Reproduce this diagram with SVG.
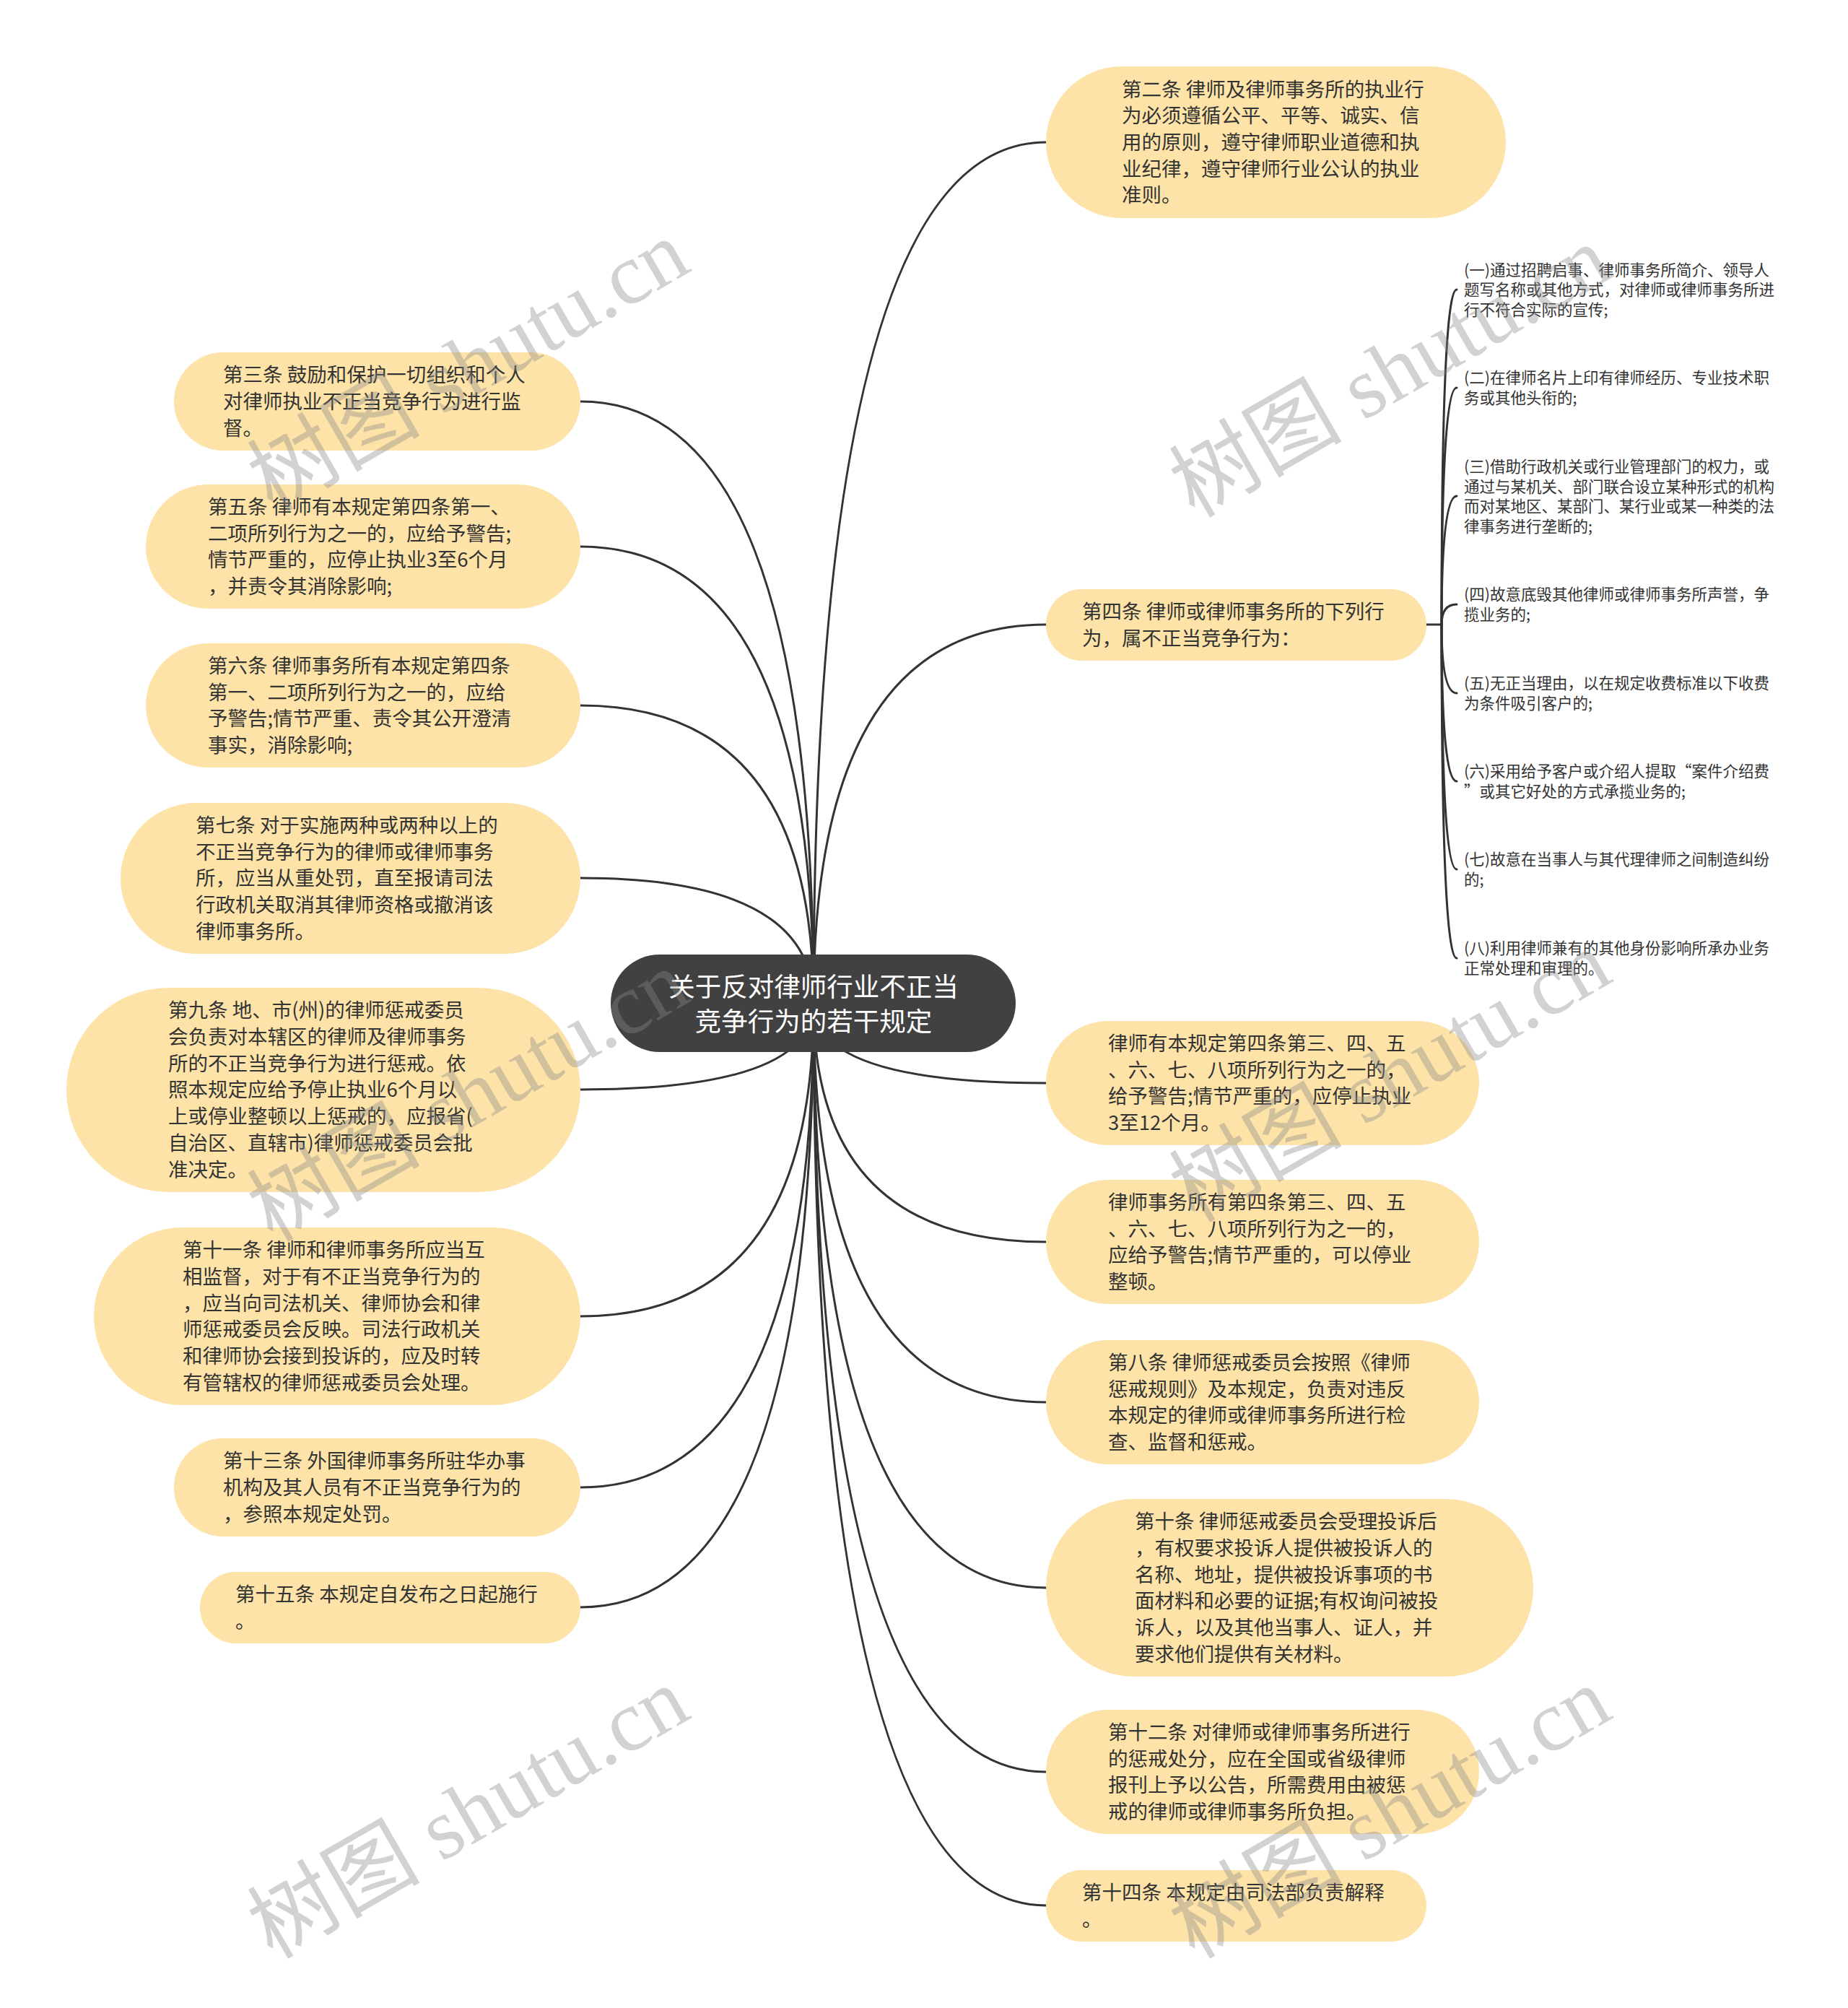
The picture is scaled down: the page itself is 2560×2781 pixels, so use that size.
<svg xmlns="http://www.w3.org/2000/svg" width="2560" height="2781" viewBox="0 0 2560 2781">
<style>
.bg{fill:#ffffff}
.node rect{fill:#FDE3A8}
.node text{font-family:"Noto Sans CJK SC","Noto Sans",sans-serif;font-size:27.5px;fill:#333333}
.leaf text{font-family:"Noto Sans CJK SC","Noto Sans",sans-serif;font-size:21.5px;fill:#333333}
#root rect{fill:#414141}
#root text{font-family:"Noto Sans CJK SC","Noto Sans",sans-serif;font-size:36.5px;fill:#ffffff;text-anchor:middle}
#connectors path{fill:none;stroke:#333333;stroke-width:3;stroke-linecap:round}
.wm text{font-size:120px;fill:#8a8a8a;fill-opacity:0.38;text-anchor:middle}
.wm .cjk{font-family:"Noto Sans CJK SC",serif}
.wm .lat{font-family:"Liberation Serif",serif}
</style>
<rect class="bg" x="0" y="0" width="2560" height="2781"/>

<g id="connectors">
<path d="M1127 1390 Q1127 197 1449 197"/>
<path d="M1127 1390 Q1127 865 1449 865"/>
<path d="M1127 1390 Q1127 1500 1449 1500"/>
<path d="M1127 1390 Q1127 1720 1449 1720"/>
<path d="M1127 1390 Q1127 1942 1449 1942"/>
<path d="M1127 1390 Q1127 2199 1449 2199"/>
<path d="M1127 1390 Q1127 2454 1449 2454"/>
<path d="M1127 1390 Q1127 2639 1449 2639"/>
<path d="M1127 1390 Q1127 556 804 556"/>
<path d="M1127 1390 Q1127 757 804 757"/>
<path d="M1127 1390 Q1127 977 804 977"/>
<path d="M1127 1390 Q1127 1216 804 1216"/>
<path d="M1127 1390 Q1127 1509 804 1509"/>
<path d="M1127 1390 Q1127 1823 804 1823"/>
<path d="M1127 1390 Q1127 2060 804 2060"/>
<path d="M1127 1390 Q1127 2226 804 2226"/>
<path d="M1976 865 L1997 865"/>
<path d="M1997 865 Q1997 401 2018 401"/>
<path d="M1997 865 Q1997 537 2018 537"/>
<path d="M1997 865 Q1997 687 2018 687"/>
<path d="M1997 865 Q1997 837 2018 837"/>
<path d="M1997 865 Q1997 960 2018 960"/>
<path d="M1997 865 Q1997 1082 2018 1082"/>
<path d="M1997 865 Q1997 1204 2018 1204"/>
<path d="M1997 865 Q1997 1327 2018 1327"/>
</g>

<g id="root">
<rect x="846" y="1322" width="561" height="135" rx="67.5" ry="67.5"/>
<text x="1127" y="1380">关于反对律师行业不正当</text>
<text x="1127" y="1428">竞争行为的若干规定</text>
</g>

<g id="n2" class="node">
<rect x="1449" y="92" width="637" height="210" rx="105" ry="105"/>
<text x="1554" y="134">第二条 律师及律师事务所的执业行</text>
<text x="1554" y="170">为必须遵循公平、平等、诚实、信</text>
<text x="1554" y="207">用的原则，遵守律师职业道德和执</text>
<text x="1554" y="244">业纪律，遵守律师行业公认的执业</text>
<text x="1554" y="280">准则。</text>
</g>

<g id="n4" class="node">
<rect x="1449" y="816" width="527" height="99" rx="49.5" ry="49.5"/>
<text x="1499" y="857">第四条 律师或律师事务所的下列行</text>
<text x="1499" y="894">为，属不正当竞争行为：</text>
</g>

<g id="n4-1" class="leaf">
<text x="2028" y="382">(一)通过招聘启事、律师事务所简介、领导人</text>
<text x="2028" y="409">题写名称或其他方式，对律师或律师事务所进</text>
<text x="2028" y="437">行不符合实际的宣传;</text>
</g>
<g id="n4-2" class="leaf">
<text x="2028" y="531">(二)在律师名片上印有律师经历、专业技术职</text>
<text x="2028" y="559">务或其他头衔的;</text>
</g>
<g id="n4-3" class="leaf">
<text x="2028" y="654">(三)借助行政机关或行业管理部门的权力，或</text>
<text x="2028" y="682">通过与某机关、部门联合设立某种形式的机构</text>
<text x="2028" y="709">而对某地区、某部门、某行业或某一种类的法</text>
<text x="2028" y="737">律事务进行垄断的;</text>
</g>
<g id="n4-4" class="leaf">
<text x="2028" y="831">(四)故意底毁其他律师或律师事务所声誉，争</text>
<text x="2028" y="859">揽业务的;</text>
</g>
<g id="n4-5" class="leaf">
<text x="2028" y="954">(五)无正当理由，以在规定收费标准以下收费</text>
<text x="2028" y="982">为条件吸引客户的;</text>
</g>
<g id="n4-6" class="leaf">
<text x="2028" y="1076">(六)采用给予客户或介绍人提取“案件介绍费</text>
<text x="2028" y="1104">”或其它好处的方式承揽业务的;</text>
</g>
<g id="n4-7" class="leaf">
<text x="2028" y="1198">(七)故意在当事人与其代理律师之间制造纠纷</text>
<text x="2028" y="1226">的;</text>
</g>
<g id="n4-8" class="leaf">
<text x="2028" y="1321">(八)利用律师兼有的其他身份影响所承办业务</text>
<text x="2028" y="1349">正常处理和审理的。</text>
</g>

<g id="r3" class="node">
<rect x="1449" y="1414" width="600" height="172" rx="86" ry="86"/>
<text x="1535" y="1455">律师有本规定第四条第三、四、五</text>
<text x="1535" y="1492">、六、七、八项所列行为之一的，</text>
<text x="1535" y="1528">给予警告;情节严重的，应停止执业</text>
<text x="1535" y="1565">3至12个月。</text>
</g>

<g id="r4" class="node">
<rect x="1449" y="1634" width="600" height="172" rx="86" ry="86"/>
<text x="1535" y="1675">律师事务所有第四条第三、四、五</text>
<text x="1535" y="1712">、六、七、八项所列行为之一的，</text>
<text x="1535" y="1748">应给予警告;情节严重的，可以停业</text>
<text x="1535" y="1785">整顿。</text>
</g>

<g id="n8" class="node">
<rect x="1449" y="1856" width="600" height="172" rx="86" ry="86"/>
<text x="1535" y="1897">第八条 律师惩戒委员会按照《律师</text>
<text x="1535" y="1934">惩戒规则》及本规定，负责对违反</text>
<text x="1535" y="1970">本规定的律师或律师事务所进行检</text>
<text x="1535" y="2007">查、监督和惩戒。</text>
</g>

<g id="n10" class="node">
<rect x="1449" y="2076" width="675" height="246" rx="123" ry="123"/>
<text x="1572" y="2117">第十条 律师惩戒委员会受理投诉后</text>
<text x="1572" y="2154">，有权要求投诉人提供被投诉人的</text>
<text x="1572" y="2191">名称、地址，提供被投诉事项的书</text>
<text x="1572" y="2227">面材料和必要的证据;有权询问被投</text>
<text x="1572" y="2264">诉人，以及其他当事人、证人，并</text>
<text x="1572" y="2301">要求他们提供有关材料。</text>
</g>

<g id="n12" class="node">
<rect x="1449" y="2368" width="600" height="172" rx="86" ry="86"/>
<text x="1535" y="2409">第十二条 对律师或律师事务所进行</text>
<text x="1535" y="2446">的惩戒处分，应在全国或省级律师</text>
<text x="1535" y="2482">报刊上予以公告，所需费用由被惩</text>
<text x="1535" y="2519">戒的律师或律师事务所负担。</text>
</g>

<g id="n14" class="node">
<rect x="1449" y="2590" width="527" height="99" rx="49.5" ry="49.5"/>
<text x="1499" y="2631">第十四条 本规定由司法部负责解释</text>
<text x="1499" y="2668">。</text>
</g>

<g id="n3" class="node">
<rect x="241" y="488" width="563" height="136" rx="68" ry="68"/>
<text x="309" y="529">第三条 鼓励和保护一切组织和个人</text>
<text x="309" y="566">对律师执业不正当竞争行为进行监</text>
<text x="309" y="603">督。</text>
</g>

<g id="n5" class="node">
<rect x="202" y="671" width="602" height="172" rx="86" ry="86"/>
<text x="288" y="712">第五条 律师有本规定第四条第一、</text>
<text x="288" y="749">二项所列行为之一的，应给予警告;</text>
<text x="288" y="785">情节严重的，应停止执业3至6个月</text>
<text x="288" y="822">，并责令其消除影响;</text>
</g>

<g id="n6" class="node">
<rect x="202" y="891" width="602" height="172" rx="86" ry="86"/>
<text x="288" y="932">第六条 律师事务所有本规定第四条</text>
<text x="288" y="969">第一、二项所列行为之一的，应给</text>
<text x="288" y="1005">予警告;情节严重、责令其公开澄清</text>
<text x="288" y="1042">事实，消除影响;</text>
</g>

<g id="n7" class="node">
<rect x="167" y="1112" width="637" height="209" rx="104.5" ry="104.5"/>
<text x="271" y="1153">第七条 对于实施两种或两种以上的</text>
<text x="271" y="1190">不正当竞争行为的律师或律师事务</text>
<text x="271" y="1226">所，应当从重处罚，直至报请司法</text>
<text x="271" y="1263">行政机关取消其律师资格或撤消该</text>
<text x="271" y="1300">律师事务所。</text>
</g>

<g id="n9" class="node">
<rect x="92" y="1368" width="712" height="283" rx="141.5" ry="141.5"/>
<text x="233" y="1409">第九条 地、市(州)的律师惩戒委员</text>
<text x="233" y="1446">会负责对本辖区的律师及律师事务</text>
<text x="233" y="1483">所的不正当竞争行为进行惩戒。依</text>
<text x="233" y="1519">照本规定应给予停止执业6个月以</text>
<text x="233" y="1556">上或停业整顿以上惩戒的，应报省(</text>
<text x="233" y="1593">自治区、直辖市)律师惩戒委员会批</text>
<text x="233" y="1630">准决定。</text>
</g>

<g id="n11" class="node">
<rect x="130" y="1700" width="674" height="246" rx="123" ry="123"/>
<text x="253" y="1741">第十一条 律师和律师事务所应当互</text>
<text x="253" y="1778">相监督，对于有不正当竞争行为的</text>
<text x="253" y="1815">，应当向司法机关、律师协会和律</text>
<text x="253" y="1851">师惩戒委员会反映。司法行政机关</text>
<text x="253" y="1888">和律师协会接到投诉的，应及时转</text>
<text x="253" y="1925">有管辖权的律师惩戒委员会处理。</text>
</g>

<g id="n13" class="node">
<rect x="241" y="1992" width="563" height="136" rx="68" ry="68"/>
<text x="309" y="2033">第十三条 外国律师事务所驻华办事</text>
<text x="309" y="2070">机构及其人员有不正当竞争行为的</text>
<text x="309" y="2107">，参照本规定处罚。</text>
</g>

<g id="n15" class="node">
<rect x="277" y="2177" width="527" height="99" rx="49.5" ry="49.5"/>
<text x="326" y="2218">第十五条 本规定自发布之日起施行</text>
<text x="326" y="2255">。</text>
</g>

<g id="watermarks" class="wm">
<text transform="rotate(-30 669 542)" x="669" y="542"><tspan class="cjk">树图</tspan><tspan class="lat"> shutu.cn</tspan></text>
<text transform="rotate(-30 1946 550)" x="1946" y="550"><tspan class="cjk">树图</tspan><tspan class="lat"> shutu.cn</tspan></text>
<text transform="rotate(-30 669 1553)" x="669" y="1553"><tspan class="cjk">树图</tspan><tspan class="lat"> shutu.cn</tspan></text>
<text transform="rotate(-30 1946 1526)" x="1946" y="1526"><tspan class="cjk">树图</tspan><tspan class="lat"> shutu.cn</tspan></text>
<text transform="rotate(-30 669 2546)" x="669" y="2546"><tspan class="cjk">树图</tspan><tspan class="lat"> shutu.cn</tspan></text>
<text transform="rotate(-30 1946 2546)" x="1946" y="2546"><tspan class="cjk">树图</tspan><tspan class="lat"> shutu.cn</tspan></text>
</g>
</svg>
